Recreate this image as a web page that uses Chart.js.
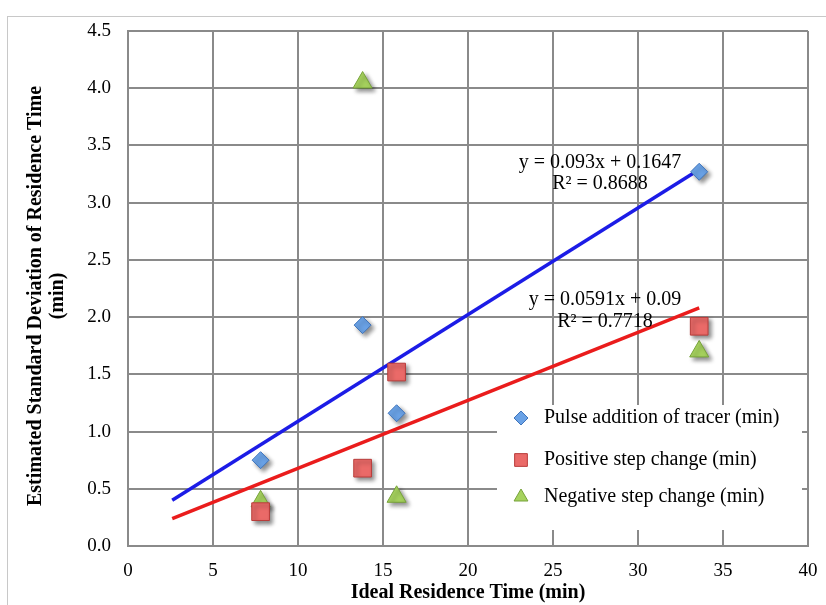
<!DOCTYPE html>
<html>
<head>
<meta charset="utf-8">
<script src="https://cdn.jsdelivr.net/npm/chart.js@4/dist/chart.umd.min.js"></script>
<style>
  html, body { margin: 0; padding: 0; background: #ffffff; }
  #wrap { position: relative; width: 826px; height: 605px; }
</style>
</head>
<body>
<div id="wrap"><canvas id="c" width="826" height="605"></canvas></div>
<script>
// ---- data ----
const residenceTimes = [7.8, 13.8, 15.8, 33.6];
const pulseValues    = [0.75, 1.93, 1.16, 3.27];
const positiveValues = [0.30, 0.68, 1.52, 1.92];
const negativeValues = [0.39, 4.05, 0.43, 1.70];
const trendX         = [2.6, 33.6];
const pulseTrend     = [0.40, 3.29];
const positiveTrend  = [0.24, 2.08];
const seriesLabels   = ['Pulse addition of tracer (min)', 'Positive step change (min)', 'Negative step change (min)'];
const pulseEquation    = ['y = 0.093x + 0.1647', 'R\u00B2 = 0.8688'];
const positiveEquation = ['y = 0.0591x + 0.09', 'R\u00B2 = 0.7718'];
const xAxisTitle = 'Ideal Residence Time (min)';
const yAxisTitle = ['Estimated Standard Deviation of Residence Time   ', '(min)   '];

const FONT = "'Liberation Serif', 'DejaVu Serif', serif";

function pts(xs, ys) { return xs.map((x, i) => ({ x: x, y: ys[i] })); }

const markerStyles = [
  { pointStyle: 'rectRot', radius: 8.5, fill: '#6aa2e6', stroke: '#3f74bb' },
  { pointStyle: 'rect', radius: 12.5, fill: '#ea6a68', stroke: '#b93c3a' },
  { pointStyle: 'triangle', radius: 11, fill: '#a6d25e', stroke: '#77a33a' }
];

const seriesData = [pulseValues, positiveValues, negativeValues];

const datasets = seriesData.map((vals, i) => ({
  type: 'scatter',
  label: seriesLabels[i],
  data: pts(residenceTimes, vals),
  pointStyle: markerStyles[i].pointStyle,
  pointRadius: markerStyles[i].radius,
  pointHoverRadius: markerStyles[i].radius,
  backgroundColor: markerStyles[i].fill,
  borderColor: markerStyles[i].stroke,
  borderWidth: 1,
  showLine: false,
  order: 1
}));

datasets.push({
  type: 'line', label: 'trend-pulse', data: pts(trendX, pulseTrend),
  borderColor: '#1c1ce6', borderWidth: 3.5, pointRadius: 0, fill: false, order: 2, isTrend: true
});
datasets.push({
  type: 'line', label: 'trend-positive', data: pts(trendX, positiveTrend),
  borderColor: '#ea1c1c', borderWidth: 3.5, pointRadius: 0, fill: false, order: 2, isTrend: true
});

const shadowPlugin = {
  id: 'shadow',
  beforeDatasetDraw(chart, args) {
    const ds = chart.data.datasets[args.index];
    chart.ctx.save();
    if (!ds.isTrend) {
      chart.ctx.shadowColor = 'rgba(0,0,0,0.45)';
      chart.ctx.shadowBlur = 4;
      chart.ctx.shadowOffsetX = 3;
      chart.ctx.shadowOffsetY = 3;
    }
  },
  afterDatasetDraw(chart) { chart.ctx.restore(); }
};

const framePlugin = {
  id: 'frame',
  beforeDraw(chart) {
    const ctx = chart.ctx;
    ctx.save();
    ctx.strokeStyle = '#c8c8c8';
    ctx.lineWidth = 1;
    ctx.strokeRect(7.5, 16.5, 900, 700);
    ctx.restore();
  }
};

// legend box over the grid (covers grid lines) + equation labels
const overlayPlugin = {
  id: 'overlay',
  beforeDatasetsDraw(chart) {
    const ctx = chart.ctx;
    ctx.save();
    ctx.fillStyle = '#ffffff';
    ctx.fillRect(497, 405, 305, 125);
    ctx.restore();
  },
  afterDatasetsDraw(chart) {
    const ctx = chart.ctx;
    ctx.save();
    ctx.font = '20px ' + FONT;
    ctx.textBaseline = 'middle';
    ctx.textAlign = 'left';
    const rows = [418, 460, 497];
    const legendRadius = [7, 9, 8];
    chart.data.datasets.forEach((ds, i) => {
      if (ds.isTrend) return;
      const y = rows[i];
      ctx.fillStyle = ds.backgroundColor;
      ctx.strokeStyle = ds.borderColor;
      ctx.lineWidth = 1;
      Chart.helpers.drawPoint(ctx, { pointStyle: ds.pointStyle, radius: legendRadius[i], borderWidth: 1 }, 521, y);
      ctx.fillStyle = '#000';
      ctx.fillText(ds.label, 544, y);
    });
    ctx.textAlign = 'center';
    ctx.fillStyle = '#000';
    ctx.fillText(pulseEquation[0], 600, 163);
    ctx.fillText(pulseEquation[1], 600, 184);
    ctx.fillText(positiveEquation[0], 605, 300);
    ctx.fillText(positiveEquation[1], 605, 322);
    ctx.restore();
  }
};

new Chart(document.getElementById('c'), {
  data: { datasets: datasets },
  options: {
    responsive: false,
    animation: false,
    layout: { padding: { left: 0, top: 31, right: 18, bottom: 0 } },
    plugins: { legend: { display: false }, tooltip: { enabled: false } },
    scales: {
      x: {
        type: 'linear', min: 0, max: 40,
        afterFit(s) { s.height = 59; s.paddingRight = 0; s.paddingLeft = 0; },
        ticks: { stepSize: 5, font: { family: FONT, size: 19 }, color: '#000', padding: 14, maxRotation: 0 },
        grid: { color: '#8a8a8a', lineWidth: 2, drawTicks: false },
        border: { color: '#8a8a8a', width: 2 },
        title: { display: true, text: xAxisTitle, font: { family: FONT, size: 20, weight: 'bold' }, color: '#000', padding: { top: 0, bottom: 0 } }
      },
      y: {
        type: 'linear', min: 0, max: 4.5,
        afterFit(s) { s.width = 128; s.paddingTop = 0; s.paddingBottom = 0; },
        ticks: { stepSize: 0.5, font: { family: FONT, size: 19 }, color: '#000', padding: 17,
          callback: v => Number(v).toFixed(1) },
        grid: { color: '#8a8a8a', lineWidth: 2, drawTicks: false },
        border: { color: '#8a8a8a', width: 2 },
        title: { display: true, text: yAxisTitle, font: { family: FONT, size: 20, weight: 'bold', lineHeight: 1.1 }, color: '#000', padding: { top: 25, bottom: 0 } }
      }
    }
  },
  plugins: [framePlugin, shadowPlugin, overlayPlugin]
});
</script>
</body>
</html>
